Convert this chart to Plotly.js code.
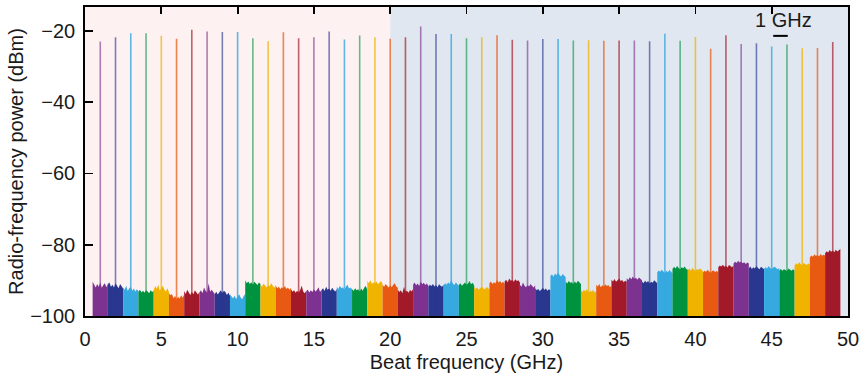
<!DOCTYPE html>
<html><head><meta charset="utf-8">
<script src="https://cdn.plot.ly/plotly-3.0.1.min.js"></script>
<style>html,body{margin:0;padding:0;background:#fff}#chart{width:864px;height:380px}</style>
</head><body><div id="chart"></div>
<script>
// Beat-note frequencies (GHz)
const beatFreqs = [1,2,3,4,5,6,7,8,9,10,11,12,13,14,15,16,17,18,19,20,21,22,23,24,25,26,27,28,29,30,31,32,33,34,35,36,37,38,39,40,41,42,43,44,45,46,47,48,49];
// Peak power of each beat note (dBm)
const peakPower = [-23.0,-21.8,-20.7,-20.7,-21.4,-22.2,-19.7,-20.2,-20.3,-20.3,
  -22.1,-22.9,-20.4,-22.1,-21.8,-20.2,-22.4,-21.3,-21.8,-22.2,
  -21.8,-18.8,-20.9,-20.9,-22.1,-21.8,-21.2,-22.5,-22.7,-22.3,
  -22.3,-22.7,-22.6,-22.8,-22.7,-22.7,-22.9,-20.8,-22.8,-21.7,
  -25.0,-21.2,-23.7,-23.5,-24.4,-23.8,-24.9,-24.8,-23.1];
// Noise-floor top level across each 1 GHz span (11 samples per span, dBm)
const noiseTop = [
 [-90.4,-91.2,-92.0,-91.0,-91.8,-90.6,-92.1,-91.3,-90.8,-91.9,-91.0],
 [-91.0,-90.6,-91.8,-91.2,-92.0,-90.8,-91.5,-92.2,-91.0,-91.6,-92.3],
 [-92.0,-92.6,-91.5,-93.0,-92.2,-91.8,-92.9,-92.3,-93.1,-92.5,-93.0],
 [-93.2,-92.6,-93.4,-92.9,-93.5,-92.7,-93.1,-93.6,-92.8,-93.3,-92.9],
 [-92.8,-91.6,-92.4,-91.2,-92.9,-92.0,-91.5,-92.6,-93.1,-92.2,-93.3],
 [-93.6,-94.2,-93.8,-95.0,-94.4,-95.3,-94.6,-95.1,-94.2,-94.9,-93.9],
 [-93.0,-93.8,-92.6,-93.5,-94.1,-93.2,-93.9,-92.8,-93.6,-94.0,-93.3],
 [-93.4,-92.8,-93.6,-92.0,-92.9,-93.5,-90.8,-93.2,-92.6,-93.4,-93.8],
 [-93.9,-93.2,-94.0,-93.4,-92.8,-93.6,-92.9,-93.3,-94.1,-93.5,-94.3],
 [-94.0,-94.6,-95.0,-94.3,-95.2,-94.5,-93.9,-94.8,-95.3,-94.4,-93.8],
 [-90.0,-90.8,-90.3,-91.0,-90.5,-91.2,-90.4,-90.9,-91.3,-90.6,-91.0],
 [-91.2,-91.8,-90.9,-91.6,-92.0,-91.3,-91.7,-90.8,-91.5,-92.1,-91.4],
 [-91.5,-92.2,-91.8,-92.5,-91.9,-92.3,-91.6,-92.4,-92.0,-92.6,-92.1],
 [-92.5,-93.2,-92.8,-93.5,-92.9,-93.4,-92.7,-91.5,-93.1,-93.6,-92.9],
 [-93.0,-92.6,-93.4,-92.8,-93.3,-92.5,-93.1,-92.7,-91.9,-93.2,-92.8],
 [-92.7,-92.2,-93.0,-91.8,-92.6,-92.3,-92.9,-92.1,-92.7,-93.1,-92.4],
 [-91.8,-92.4,-91.5,-92.2,-91.9,-92.6,-91.7,-91.2,-92.3,-92.0,-92.5],
 [-92.4,-93.0,-92.2,-92.8,-92.5,-93.1,-92.3,-92.9,-92.0,-91.6,-92.6],
 [-90.2,-90.8,-90.0,-91.0,-90.5,-90.9,-90.3,-91.1,-90.6,-90.2,-91.0],
 [-91.3,-91.8,-91.0,-91.6,-92.0,-91.4,-91.9,-91.2,-90.8,-91.7,-92.1],
 [-92.6,-93.3,-92.8,-93.6,-91.8,-93.2,-92.9,-93.5,-92.7,-93.1,-92.4],
 [-91.2,-90.6,-91.4,-90.9,-91.6,-90.3,-91.1,-90.7,-91.3,-90.9,-91.5],
 [-91.8,-91.2,-91.6,-91.0,-91.7,-91.3,-91.9,-91.1,-91.5,-91.8,-91.2],
 [-91.4,-90.8,-91.2,-90.5,-91.0,-89.8,-90.9,-91.3,-90.6,-91.1,-91.5],
 [-91.3,-90.8,-91.5,-91.0,-90.6,-91.2,-90.9,-90.2,-91.1,-90.7,-91.4],
 [-91.8,-92.4,-92.0,-92.6,-92.2,-91.7,-92.3,-92.5,-91.9,-92.1,-92.6],
 [-90.8,-90.3,-91.0,-90.5,-90.9,-89.8,-90.6,-90.2,-90.8,-90.4,-91.0],
 [-90.3,-89.8,-90.5,-89.5,-90.1,-89.9,-90.4,-89.7,-90.2,-90.0,-90.6],
 [-91.2,-91.8,-90.6,-91.5,-91.9,-91.3,-91.7,-91.0,-91.6,-92.0,-91.4],
 [-92.2,-92.8,-92.4,-93.0,-92.6,-92.1,-92.7,-92.3,-92.9,-92.5,-92.8],
 [-88.8,-88.3,-89.0,-88.1,-88.6,-87.8,-88.5,-88.9,-88.2,-88.7,-89.1],
 [-90.4,-90.9,-90.2,-90.7,-90.5,-91.0,-90.3,-90.8,-90.1,-90.6,-91.0],
 [-92.8,-93.3,-92.6,-93.1,-92.4,-93.5,-92.9,-93.2,-92.7,-93.4,-93.0],
 [-91.2,-91.7,-91.0,-91.9,-91.4,-91.8,-91.1,-91.6,-91.3,-91.9,-91.5],
 [-89.8,-90.3,-89.6,-90.4,-90.0,-89.5,-90.2,-89.9,-90.5,-90.1,-90.4],
 [-89.4,-89.9,-89.1,-89.7,-88.9,-89.6,-89.3,-89.8,-89.2,-89.7,-90.0],
 [-90.3,-90.8,-90.1,-90.6,-90.2,-90.9,-90.4,-90.7,-90.0,-90.5,-90.8],
 [-87.8,-87.2,-87.6,-87.0,-87.5,-87.9,-87.3,-87.7,-87.1,-87.6,-88.0],
 [-86.8,-86.2,-86.7,-86.0,-86.5,-86.9,-86.3,-86.6,-86.1,-86.8,-87.0],
 [-87.2,-86.7,-87.3,-86.5,-87.0,-87.4,-86.8,-87.1,-86.6,-87.2,-87.5],
 [-87.8,-87.3,-87.6,-87.0,-87.5,-87.9,-87.4,-87.2,-87.7,-87.3,-87.8],
 [-86.3,-85.8,-86.1,-85.6,-86.2,-85.9,-86.4,-85.7,-86.0,-86.3,-85.8],
 [-85.3,-84.8,-85.1,-84.5,-85.0,-84.7,-85.2,-84.9,-85.4,-85.0,-85.3],
 [-86.6,-86.1,-86.8,-86.3,-86.7,-86.0,-86.5,-86.9,-86.2,-86.6,-86.9],
 [-86.8,-86.3,-86.7,-86.0,-86.5,-86.9,-86.4,-86.2,-86.6,-86.9,-86.5],
 [-87.2,-86.8,-87.3,-86.9,-87.1,-87.4,-86.7,-87.0,-87.3,-86.9,-87.2],
 [-85.8,-85.2,-85.6,-84.9,-85.4,-85.8,-85.1,-85.5,-85.7,-85.3,-85.6],
 [-83.6,-83.0,-83.4,-82.7,-83.2,-82.9,-83.3,-82.6,-83.1,-82.8,-83.0],
 [-82.4,-81.8,-82.2,-81.5,-82.0,-81.6,-82.1,-81.4,-81.9,-81.5,-81.2]
];
// Colour cycle (purple, dark blue, light blue, green, yellow, orange, red)
const blockColors = ['#7E3290','#29378F','#37A9E1','#00933F','#EFB300','#E85A12','#A21A2A'];
const lineColors  = ['rgba(126,50,144,0.62)','rgba(41,55,143,0.62)','rgba(55,169,225,0.8)','rgba(0,147,63,0.6)','rgba(239,179,0,0.72)','rgba(232,90,18,0.72)','rgba(162,26,42,0.68)'];
const xTickVals = [0,5,10,15,20,25,30,35,40,45,50];
const yTickVals = [-100,-80,-60,-40,-20];
const floorLevel = -100;

const traces = [];
beatFreqs.forEach((f, i) => {
  const tops = noiseTop[i];
  const n = tops.length;
  const xs = [], ys = [];
  for (let k = 0; k < n; k++) { xs.push(f - 0.5 + k / (n - 1)); ys.push(tops[k]); }
  xs.push(f + 0.5, f - 0.5); ys.push(floorLevel, floorLevel);
  traces.push({x: xs, y: ys, type: 'scatter', mode: 'lines', fill: 'toself',
    fillcolor: blockColors[i % 7], line: {width: 0, color: blockColors[i % 7]},
    hoverinfo: 'skip', showlegend: false});
});
beatFreqs.forEach((f, i) => {
  traces.push({x: [f, f], y: [floorLevel, peakPower[i]], type: 'scatter', mode: 'lines',
    line: {width: 1.6, color: lineColors[i % 7]}, hoverinfo: 'skip', showlegend: false});
});
// carrier for the top tick axis
traces.push({x: [25], y: [-60], xaxis: 'x2', type: 'scatter', mode: 'none', hoverinfo: 'skip', showlegend: false});

const font = {family: '"Liberation Sans", Arial, sans-serif', size: 20, color: '#1a1a1a'};
const layout = {
  width: 864, height: 380,
  margin: {l: 85, r: 16, t: 7, b: 64},
  paper_bgcolor: '#fff', plot_bgcolor: '#fff',
  font: font,
  showlegend: false,
  xaxis: {range: [0, 50], tickvals: xTickVals, ticks: '', showgrid: false, zeroline: false,
    showline: true, linecolor: '#000', linewidth: 1.8, mirror: true,
    ticklabelstandoff: 4, tickfont: font,
    title: {text: 'Beat frequency (GHz)', font: font, standoff: 6}},
  xaxis2: {overlaying: 'x', matches: 'x', side: 'top', tickvals: xTickVals, ticks: 'inside',
    ticklen: 7, tickwidth: 1.8, tickcolor: '#000', showticklabels: false, showgrid: false,
    zeroline: false, showline: false},
  yaxis: {range: [-100, -13.3], tickvals: yTickVals, ticks: 'inside', ticklen: 8, tickwidth: 1.8,
    tickcolor: '#000', showgrid: false, zeroline: false, showline: true, linecolor: '#000',
    linewidth: 1.8, mirror: true, ticklabelstandoff: 4, tickfont: font,
    title: {text: 'Radio-frequency power (dBm)', font: font, standoff: 1}},
  shapes: [
    {type: 'rect', xref: 'x', yref: 'paper', x0: 0, x1: 20, y0: 0, y1: 1, fillcolor: '#FDF1F1', line: {width: 0}, layer: 'below'},
    {type: 'rect', xref: 'x', yref: 'paper', x0: 20, x1: 50, y0: 0, y1: 1, fillcolor: '#E0E7F0', line: {width: 0}, layer: 'below'},
    {type: 'line', xref: 'x', yref: 'y', x0: 45.1, x1: 46.05, y0: -21.4, y1: -21.4, line: {color: '#000', width: 2}}
  ],
  annotations: [
    {xref: 'x', yref: 'y', x: 45.75, y: -16.9, text: '1 GHz', showarrow: false, font: font, xanchor: 'center', yanchor: 'middle'}
  ]
};
Plotly.newPlot('chart', traces, layout, {staticPlot: true, displayModeBar: false});
</script>
</body></html>
